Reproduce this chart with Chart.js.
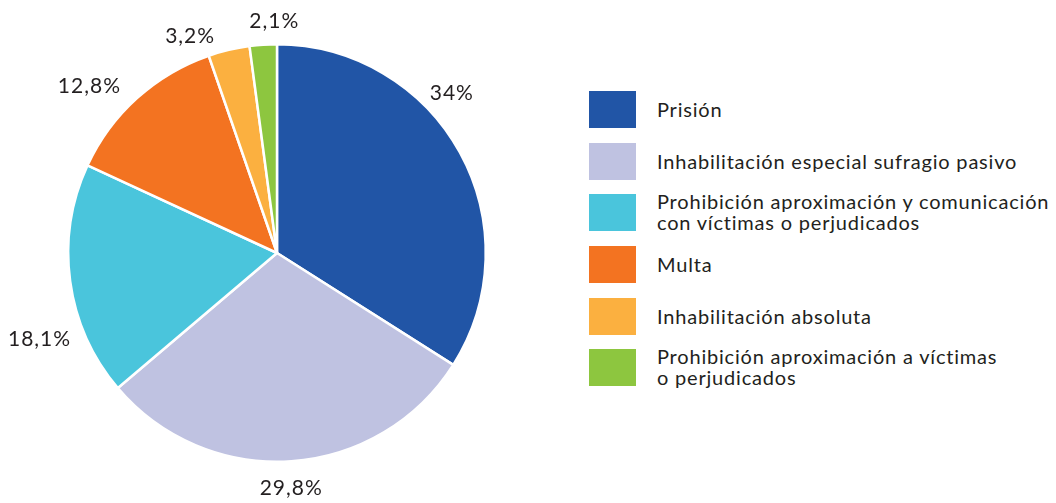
<!DOCTYPE html>
<html>
<head>
<meta charset="utf-8">
<script src="https://cdn.jsdelivr.net/npm/chart.js@4"></script>
<style>
  body { margin: 0; background: #fff; font-family: Lato, sans-serif; }
  #wrap { position: relative; width: 1056px; height: 503px; }
  #pie { position: absolute; left: 0; top: 0; }
  #legend { position: absolute; left: 589px; top: 91px; }
  .item { position: relative; height: 51.7px; }
  .box { position: absolute; left: 0; top: 0; width: 47px; height: 37px; }
  .txt { position: absolute; left: 68px; top: 18px; transform: translateY(-50%);
         font-size: 20px; line-height: 21px; letter-spacing: 0.8px;
         color: #231f20; white-space: nowrap; }
</style>
</head>
<body>
<div id="wrap">
  <canvas id="pie" width="560" height="503"></canvas>
  <div id="legend"></div>
</div>
<script>
// categorias (las de dos lineas van como array)
const categorias = [
  "Prisión",
  "Inhabilitación especial sufragio pasivo",
  ["Prohibición aproximación y comunicación", "con víctimas o perjudicados"],
  "Multa",
  "Inhabilitación absoluta",
  ["Prohibición aproximación a víctimas", "o perjudicados"]
];
const porcentajes = [34, 29.8, 18.1, 12.8, 3.2, 2.1];
const etiquetas = ["34%", "29,8%", "18,1%", "12,8%", "3,2%", "2,1%"];
const colores = ["#2155a6", "#bfc2e1", "#4ac5dc", "#f37321", "#fbb040", "#8dc63f"];

// leyenda hecha a mano a la derecha
const legend = document.getElementById("legend");
categorias.forEach((cat, i) => {
  const row = document.createElement("div");
  row.className = "item";
  const lines = Array.isArray(cat) ? cat : [cat];
  row.innerHTML = `<div class="box" style="background:${colores[i]}"></div>` +
    `<div class="txt">${lines.join("<br>")}</div>`;
  legend.appendChild(row);
});

// etiquetas de porcentaje fuera de la tarta
const etiquetasFuera = {
  id: "etiquetasFuera",
  afterDatasetsDraw(chart, args, opts) {
    const ctx = chart.ctx;
    const meta = chart.getDatasetMeta(0);
    ctx.save();
    ctx.font = "21px Lato";
    ctx.letterSpacing = "1px";
    ctx.fillStyle = "#231f20";
    ctx.textAlign = "center";
    ctx.textBaseline = "middle";
    meta.data.forEach((arc, i) => {
      const a = (arc.startAngle + arc.endAngle) / 2 + (opts.nudge[i] || 0) * Math.PI / 180;
      const r = arc.outerRadius + opts.offset[i];
      ctx.fillText(etiquetas[i], arc.x + Math.cos(a) * r, arc.y + Math.sin(a) * r);
    });
    ctx.restore();
  }
};

new Chart(document.getElementById("pie"), {
  type: "pie",
  data: {
    labels: categorias,
    datasets: [{
      data: porcentajes,
      backgroundColor: colores,
      borderColor: "#ffffff",
      borderWidth: 2.5
    }]
  },
  options: {
    responsive: false,
    animation: false,
    layout: { padding: { left: 67, right: 73, top: 43, bottom: 40 } },
    plugins: {
      legend: { display: false },
      tooltip: { enabled: false },
      etiquetasFuera: {
        nudge: [-13.6, 0.5, -12.3, -6.3, -8.5, 3.1],
        offset: [28, 27, 44, 42, 25, 23]
      }
    }
  },
  plugins: [etiquetasFuera]
});
</script>
</body>
</html>
